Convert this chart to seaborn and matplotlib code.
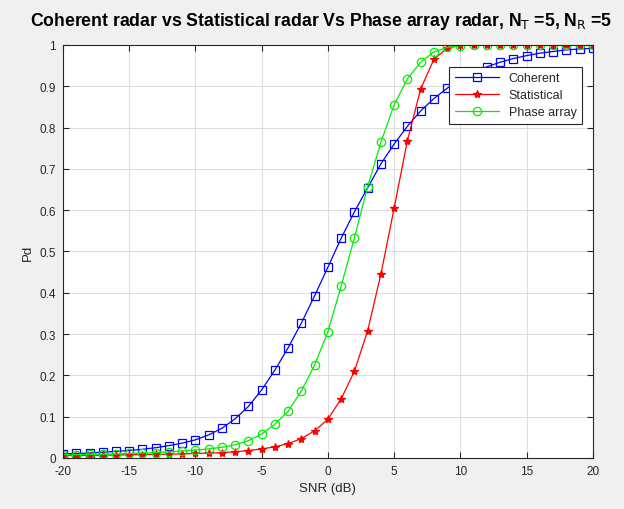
import numpy as np
import pandas as pd
import matplotlib
matplotlib.use("Agg")
import matplotlib.pyplot as plt
import seaborn as sns

snr = list(range(-20, 21))
coherent = [0.010, 0.011, 0.012, 0.014, 0.016, 0.018, 0.021, 0.025, 0.030, 0.036,
            0.044, 0.056, 0.072, 0.095, 0.125, 0.165, 0.213, 0.267, 0.327, 0.393,
            0.462, 0.532, 0.596, 0.654, 0.712, 0.760, 0.803, 0.840, 0.870, 0.895,
            0.916, 0.933, 0.947, 0.958, 0.967, 0.974, 0.980, 0.984, 0.988, 0.990, 0.992]
statistical = [0.006, 0.006, 0.006, 0.007, 0.007, 0.008, 0.008, 0.009, 0.009, 0.010,
               0.011, 0.012, 0.013, 0.015, 0.018, 0.022, 0.027, 0.035, 0.047, 0.066,
               0.094, 0.143, 0.210, 0.308, 0.445, 0.605, 0.768, 0.893, 0.965, 0.992,
               0.999, 1.0, 1.0, 1.0, 1.0, 1.0, 1.0, 1.0, 1.0, 1.0, 1.0]
phase = [0.008, 0.008, 0.009, 0.009, 0.010, 0.011, 0.012, 0.013, 0.015, 0.017,
         0.019, 0.022, 0.026, 0.032, 0.042, 0.058, 0.082, 0.113, 0.163, 0.225,
         0.306, 0.416, 0.533, 0.657, 0.764, 0.855, 0.918, 0.958, 0.983, 0.994,
         0.998, 1.0, 1.0, 1.0, 1.0, 1.0, 1.0, 1.0, 1.0, 1.0, 1.0]
labels = ["Coherent", "Statistical", "Phase array"]

sns.set_style("whitegrid")
plt.rcParams['font.family'] = ['Liberation Sans', 'DejaVu Sans']
plt.rcParams['axes.unicode_minus'] = False

fig = plt.figure(figsize=(6.24, 5.10), dpi=100, facecolor="#f0f0f0")
ax = fig.add_axes([0.101, 0.100, 0.849, 0.810])
ax.set_facecolor("white")

df = pd.DataFrame({"snr": snr * 3,
                   "pd": coherent + statistical + phase,
                   "series": [labels[0]] * len(snr) + [labels[1]] * len(snr) + [labels[2]] * len(snr)})

styles = {
    "Coherent": dict(color="#0000ff", marker="s", markerfacecolor="none", markersize=6),
    "Statistical": dict(color="#ff0000", marker="*", markerfacecolor="#ff0000", markersize=6),
    "Phase array": dict(color="#00ee00", marker="o", markerfacecolor="none", markersize=6),
}
for lab in labels:
    sub = df[df["series"] == lab]
    st = styles[lab]
    sns.lineplot(data=sub, x="snr", y="pd", ax=ax, label=lab, linewidth=0.9,
                 color=st["color"], marker=st["marker"], markerfacecolor=st["markerfacecolor"],
                 markeredgecolor=st["color"], markersize=st["markersize"], markeredgewidth=0.9)

ax.set_xlim(-20, 20)
ax.set_ylim(0, 1)
ax.set_xticks(np.arange(-20, 21, 5))
ax.set_yticks(np.arange(0, 1.01, 0.1))
ax.set_yticklabels(["0", "0.1", "0.2", "0.3", "0.4", "0.5", "0.6", "0.7", "0.8", "0.9", "1"])
ax.grid(True, color="#dcdcdc", linewidth=0.7)
for s in ax.spines.values():
    s.set_color("#262626")
    s.set_linewidth(0.8)
ax.tick_params(axis="both", direction="in", length=4, labelsize=8.5, colors="#262626",
               top=True, right=True, bottom=True, left=True, pad=5)
ax.set_xlabel("SNR (dB)", fontsize=9.5, color="#262626")
ax.set_ylabel("Pd", fontsize=9.5, color="#262626")

fig.text(30 / 624, 0.938, r"Coherent radar vs Statistical radar Vs Phase array radar, N$_\mathrm{T}$ =5, N$_\mathrm{R}$ =5",
         ha="left", va="bottom", fontsize=12.7, fontweight="bold", color="black")

leg = ax.legend(loc="upper right", bbox_to_anchor=(0.992, 0.962), fontsize=9,
                frameon=True, fancybox=False, edgecolor="#262626", framealpha=1,
                handlelength=3.5, borderpad=0.45, labelspacing=0.4)
leg.get_frame().set_linewidth(0.8)

fig.savefig("out.png", dpi=100, facecolor=fig.get_facecolor())
